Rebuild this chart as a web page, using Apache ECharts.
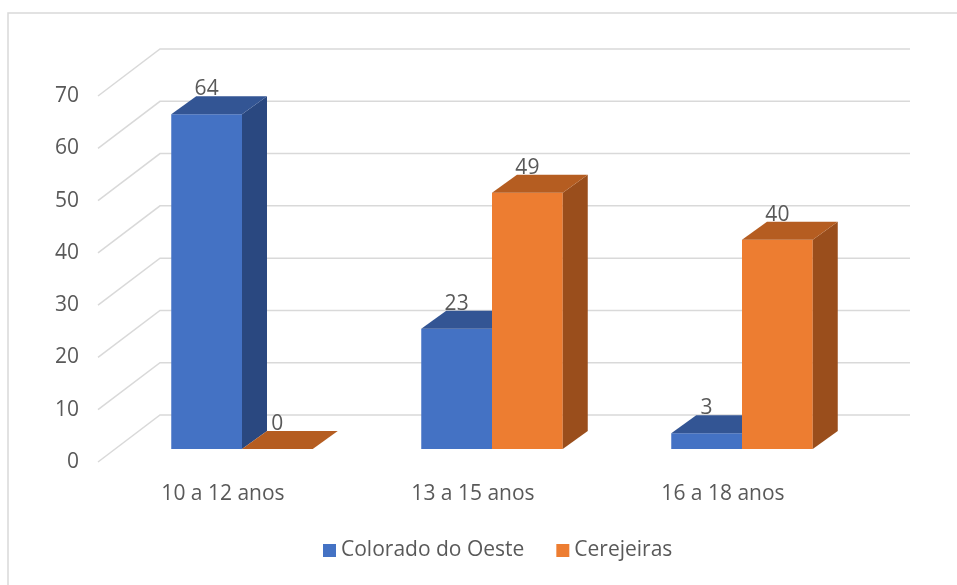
<!DOCTYPE html>
<html lang="pt">
<head>
    <meta charset="UTF-8">
    <title>Faixa etária</title>
    <script src="https://cdn.jsdelivr.net/npm/echarts@6/dist/echarts.min.js"></script>
    <style>
        html, body { margin: 0; padding: 0; background: #fff; }
        #chart { width: 957px; height: 585px; }
    </style>
</head>
<body>
<div id="chart"></div>
<script type="text/javascript">
    // data
    let categories = ['10 a 12 anos', '13 a 15 anos', '16 a 18 anos'];
    let coloradoValues = [64, 23, 3];
    let cerejeirasValues = [0, 49, 40];
    let seriesNames = ['Colorado do Oeste', 'Cerejeiras'];
    let yTicks = [0, 10, 20, 30, 40, 50, 60, 70];

    // fake 3d offsets (pixels)
    let wallDx = 62, wallDy = -47;   // back wall
    let barDx = 19, barDy = -13;     // front face of the bars
    let depthDx = 25, depthDy = -18; // bar depth

    let textColor = '#595959';
    let font = '"Open Sans", "Liberation Sans", sans-serif';
    let fontSize = 21;

    let faces = [
        {front: '#4472C4', top: '#335594', side: '#2A4880'},
        {front: '#ED7D31', top: '#B55D21', side: '#9A4E1C'}
    ];

    let chart = echarts.init(document.getElementById('chart'));

    // back wall grid lines with the diagonal going to the front
    function renderGrid(params, api) {
        let cs = params.coordSys;
        let y = api.coord([0, api.value(1)])[1];
        return {
            type: 'polyline',
            shape: {
                points: [[cs.x, y], [cs.x + wallDx, y + wallDy], [cs.x + cs.width + wallDx, y + wallDy]]
            },
            style: {stroke: '#D9D9D9', lineWidth: 1.5, fill: null}
        };
    }

    function makeBarRenderer(idx) {
        return function (params, api) {
            let cat = api.value(0);
            let val = api.value(1);
            let base = api.coord([cat, 0]);
            let top = api.coord([cat, val]);
            let band = api.size([1, 0])[0];
            let w = band * 0.283;
            let cx = base[0] + barDx;
            let x0 = idx === 0 ? cx - w : cx;
            let x1 = x0 + w;
            let yb = base[1] + barDy;
            let yt = top[1] + barDy;
            let c = faces[idx];
            let children = [];
            if (yb - yt > 0.5) {
                children.push({
                    type: 'rect',
                    shape: {x: x0, y: yt, width: w, height: yb - yt},
                    style: {fill: c.front}
                });
                children.push({
                    type: 'polygon',
                    shape: {points: [[x1, yt], [x1 + depthDx, yt + depthDy], [x1 + depthDx, yb + depthDy], [x1, yb]]},
                    style: {fill: c.side}
                });
            }
            children.push({
                type: 'polygon',
                shape: {points: [[x0, yt], [x1, yt], [x1 + depthDx, yt + depthDy], [x0 + depthDx, yt + depthDy]]},
                style: {fill: c.top}
            });
            children.push({
                type: 'text',
                style: {
                    x: (x0 + x1) / 2,
                    y: yt + depthDy - 7,
                    text: String(val),
                    fill: textColor,
                    font: fontSize + 'px ' + font,
                    align: 'center',
                    verticalAlign: 'middle'
                }
            });
            return {type: 'group', children: children};
        };
    }

    let option = {
        animation: false,
        backgroundColor: '#fff',
        graphic: [{
            type: 'rect',
            shape: {x: 8, y: 13, width: 980, height: 600},
            style: {fill: null, stroke: '#D9D9D9', lineWidth: 1.5},
            silent: true
        }],
        legend: {
            bottom: 19,
            left: 318,
            icon: 'rect',
            itemWidth: 13,
            itemHeight: 13,
            itemGap: 32,
            data: seriesNames,
            textStyle: {color: textColor, fontSize: fontSize, fontFamily: font}
        },
        grid: {left: 98, right: 109, top: 96, bottom: 123},
        xAxis: {
            type: 'category',
            data: categories,
            axisLine: {show: false},
            axisTick: {show: false},
            splitLine: {show: false},
            axisLabel: {margin: 22, color: textColor, fontSize: fontSize, fontFamily: font}
        },
        yAxis: {
            type: 'value',
            min: 0,
            max: 70,
            interval: 10,
            axisLine: {show: false},
            axisTick: {show: false},
            splitLine: {show: false},
            axisLabel: {margin: 19, color: textColor, fontSize: fontSize, fontFamily: font}
        },
        series: [
            {
                type: 'custom',
                name: 'grid',
                silent: true,
                clip: false,
                z: 1,
                renderItem: renderGrid,
                data: yTicks.map(v => [0, v])
            },
            {
                type: 'custom',
                name: seriesNames[0],
                clip: false,
                z: 2,
                itemStyle: {color: faces[0].front},
                renderItem: makeBarRenderer(0),
                encode: {x: 0, y: 1},
                data: coloradoValues.map((v, i) => [i, v])
            },
            {
                type: 'custom',
                name: seriesNames[1],
                clip: false,
                z: 3,
                itemStyle: {color: faces[1].front},
                renderItem: makeBarRenderer(1),
                encode: {x: 0, y: 1},
                data: cerejeirasValues.map((v, i) => [i, v])
            }
        ]
    };

    chart.setOption(option);
</script>
</body>
</html>
